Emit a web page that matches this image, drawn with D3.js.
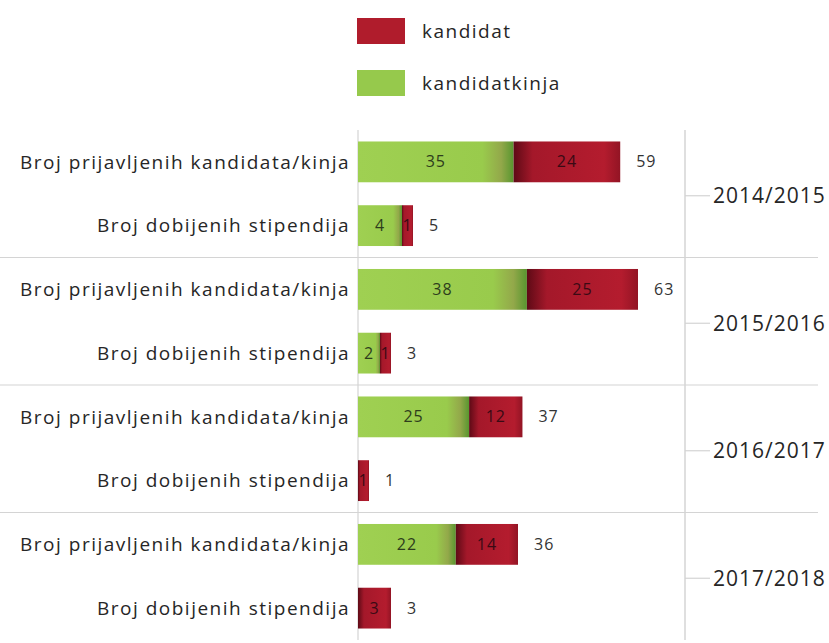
<!DOCTYPE html>
<html>
<head>
<meta charset="utf-8">
<script src="https://cdn.jsdelivr.net/npm/d3@7"></script>
<style>
  body { margin: 0; background: #fff; }
  svg { display: block; font-family: "Open Sans", sans-serif; }
</style>
</head>
<body>
<svg id="chart" width="829" height="643"></svg>
<script>
// data
const years = ["2014/2015", "2015/2016", "2016/2017", "2017/2018"];
const rows = ["Broj prijavljenih kandidata/kinja", "Broj dobijenih stipendija"];
// per year: [applied, granted]
const kandidatkinja = [[35, 4], [38, 2], [25, 0], [22, 0]];
const kandidat = [[24, 1], [25, 1], [12, 1], [14, 3]];
const legendLabels = ["kandidat", "kandidatkinja"];

const svg = d3.select("#chart");

// gradients (bars look shaded in the original)
const defs = svg.append("defs");
const gGreen = defs.append("linearGradient").attr("id", "grad-green");
[[0, "#9fd052"], [0.8, "#99cb4c"], [0.92, "#93a84a"], [1, "#58962f"]]
  .forEach(([o, c]) => gGreen.append("stop").attr("offset", o).attr("stop-color", c));
const gRed = defs.append("linearGradient").attr("id", "grad-red");
[[0, "#5e0a16"], [0.18, "#a4182a"], [0.85, "#b41c2e"], [1, "#921424"]]
  .forEach(([o, c]) => gRed.append("stop").attr("offset", o).attr("stop-color", c));

// scales
const axisX = 358;
const y0 = d3.scaleBand().domain(years).range([130, 640]);
const y1 = d3.scaleBand().domain(rows).range([0, y0.bandwidth()])
  .paddingInner(0.36).paddingOuter(0.18);
// the original draws the small "granted" bars on a wider scale than the big ones
const xApplied = d3.scaleLinear().domain([0, 63]).range([axisX, 638]);
const xGranted = d3.scaleLinear().domain([0, 5]).range([axisX, 413]);
const xFor = i => i === 0 ? xApplied : xGranted;

const textColor = "#262626";
const labelFont = { size: 19, spacing: 1.5 };

// grid: separators, axis line, year axis
const lineColor = "#d4d4d4";
years.slice(1).forEach(yr => {
  svg.append("line")
    .attr("x1", 0).attr("x2", 818)
    .attr("y1", y0(yr)).attr("y2", y0(yr))
    .attr("stroke", lineColor).attr("stroke-width", 1.2);
});
svg.append("line")
  .attr("x1", axisX).attr("x2", axisX)
  .attr("y1", 130).attr("y2", 640)
  .attr("stroke", lineColor).attr("stroke-width", 1.2);
svg.append("line")
  .attr("x1", 685).attr("x2", 685)
  .attr("y1", 130).attr("y2", 640)
  .attr("stroke", lineColor).attr("stroke-width", 1.5);

// bars
years.forEach((yr, gi) => {
  const g = svg.append("g").attr("transform", `translate(0,${y0(yr)})`);

  rows.forEach((row, ri) => {
    const x = xFor(ri);
    const f = kandidatkinja[gi][ri];
    const m = kandidat[gi][ri];
    const top = y1(row);
    const h = y1.bandwidth();
    const cy = top + h / 2;

    const segs = [
      { v: f, x0: 0, x1: f, fill: "url(#grad-green)", txt: "#2e3d1c" },
      { v: m, x0: f, x1: f + m, fill: "url(#grad-red)", txt: "#3a0a14" }
    ].filter(s => s.v > 0);

    segs.forEach(s => {
      g.append("rect")
        .attr("x", x(s.x0)).attr("y", top)
        .attr("width", x(s.x1) - x(s.x0)).attr("height", h)
        .attr("fill", s.fill);
      g.append("text")
        .attr("x", (x(s.x0) + x(s.x1)) / 2).attr("y", cy)
        .attr("dy", "0.35em").attr("text-anchor", "middle")
        .attr("font-size", 16).attr("letter-spacing", 1)
        .attr("fill", s.txt)
        .text(s.v);
    });

    // total to the right of the bar
    g.append("text")
      .attr("x", x(f + m) + 16).attr("y", cy)
      .attr("dy", "0.35em")
      .attr("font-size", 16).attr("letter-spacing", 1)
      .attr("fill", "#333")
      .text(f + m);

    // row label on the left
    g.append("text")
      .attr("x", 350).attr("y", cy)
      .attr("dy", "0.35em").attr("text-anchor", "end")
      .attr("font-size", labelFont.size).attr("letter-spacing", labelFont.spacing)
      .attr("fill", textColor)
      .text(row);
  });

  // year tick and label
  const ym = y0.bandwidth() / 2 + 2;
  g.append("line")
    .attr("x1", 685).attr("x2", 710)
    .attr("y1", ym).attr("y2", ym)
    .attr("stroke", lineColor).attr("stroke-width", 1.2);
  g.append("text")
    .attr("x", 713).attr("y", ym)
    .attr("dy", "0.35em")
    .attr("font-size", 21).attr("letter-spacing", 1)
    .attr("fill", textColor)
    .text(yr);
});

// legend
const legendY = d3.scalePoint().domain(legendLabels).range([31, 83]);
legendLabels.forEach((lab, i) => {
  svg.append("rect")
    .attr("x", 357).attr("y", legendY(lab) - 13)
    .attr("width", 48).attr("height", 26)
    .attr("fill", i === 0 ? "#b01c2c" : "#96c94c");
  svg.append("text")
    .attr("x", 422).attr("y", legendY(lab))
    .attr("dy", "0.35em")
    .attr("font-size", labelFont.size).attr("letter-spacing", labelFont.spacing)
    .attr("fill", textColor)
    .text(lab);
});
</script>
</body>
</html>
